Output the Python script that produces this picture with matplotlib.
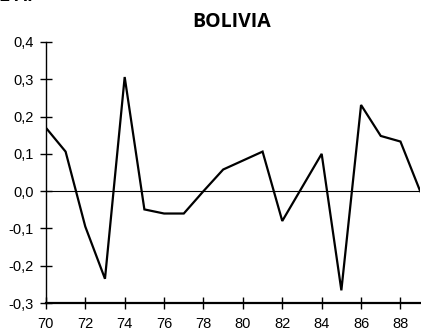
import numpy as np
import matplotlib.pyplot as plt

years = [70, 71, 72, 73, 74, 75, 76, 77, 78, 79, 80, 81, 82, 83, 84, 85, 86, 87, 88, 89]
values = [0.17, 0.106, -0.095, -0.235, 0.306, -0.049, -0.06, -0.06, 0.0, 0.058,
          0.082, 0.106, -0.08, 0.01, 0.1, -0.266, 0.231, 0.148, 0.133, 0.0]
yticks = [-0.3, -0.2, -0.1, 0.0, 0.1, 0.2, 0.3, 0.4]
xticks = list(range(70, 90, 2))

plt.rcParams['font.family'] = ['Liberation Sans', 'DejaVu Sans']

fig = plt.figure(figsize=(4.21, 3.33), dpi=100)
ax = fig.add_axes([0.109, 0.09, 0.889, 0.784])

ax.plot(years, values, color='black', lw=1.6, solid_joinstyle='miter')
ax.axhline(0, color='black', lw=0.8)

ax.set_xlim(70, 89)
ax.set_ylim(-0.3, 0.4)
ax.set_xticks(xticks)
ax.set_yticks(yticks)
ax.set_yticklabels([f"{v:.1f}".replace('.', ',') for v in yticks])
ax.tick_params(direction='inout', length=8, width=1, labelsize=10.5)
ax.tick_params(axis='y', pad=5)
ax.tick_params(axis='x', pad=6)

for side in ['top', 'right']:
    ax.spines[side].set_visible(False)
ax.spines['bottom'].set_linewidth(1.6)
ax.spines['left'].set_linewidth(1)

fig.text(0.551, 0.934, 'BOLIVIA', ha='center', va='center', fontsize=14,
         fontweight='bold', family=['Open Sans', 'DejaVu Sans'])
fig.text(0.0, 1.012, '2 A.', ha='left', va='center', fontsize=13, fontweight='bold')

fig.savefig('out.png', dpi=100)
